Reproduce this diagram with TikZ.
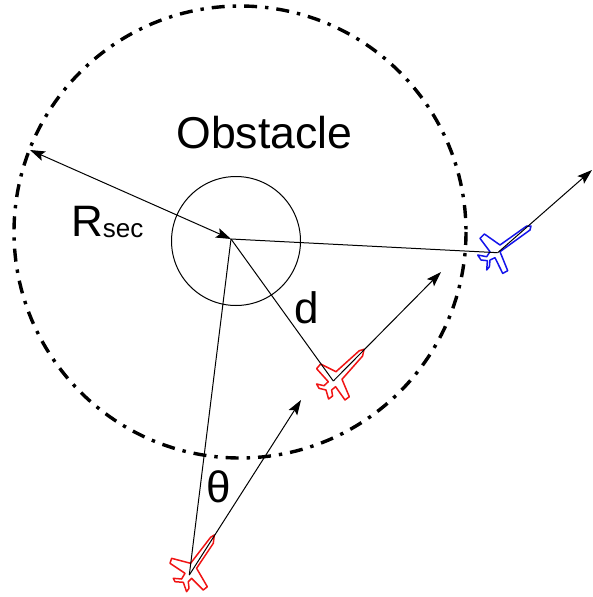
\documentclass[tikz,border=0pt]{standalone}
\usepackage{fontspec}
\setmainfont{Liberation Sans}
\usetikzlibrary{arrows.meta}
\tikzset{
  conn/.style={draw=black,line width=1pt},
  arrowconn/.style={conn,-{Stealth[length=15pt,width=10pt,inset=3pt]}},
  bothconn/.style={conn,{Stealth[length=15pt,width=10pt,inset=3pt]}-{Stealth[length=15pt,width=10pt,inset=3pt]}},
  label/.style={inner sep=0pt,text=black},
  planeline/.style={line width=1.5pt,line join=round},
  planeA/.pic={
    \draw[planeline,pic actions]
      (25,-40)--(21.3,-37.7)--(1.3,-11.7)--(-17.7,-16.7)--(-19.3,-11.7)--(-4.3,-1.7)--(-7.7,4)
      --(-16,3.3)--(-14.3,6.7)--(-6,7.3)--(-2.7,16.7)--(-0.3,13.3)--(-1,6.7)--(2.3,3.3)
      --(14,15)--(18,11.7)--(7.3,-6.7)--(24,-31.7)--cycle;
  },
  planeB/.pic={
    \draw[planeline,pic actions]
      (30.7,-31.7)--(26,-30.3)--(2.7,-9.3)--(-12.7,-17)--(-16.7,-12.3)--(-5,0.7)--(-9.3,4.7)
      --(-16.7,3)--(-14.3,7.3)--(-7.3,9)--(-4.7,18)--(-0.7,15)--(-1.7,9)--(2.3,5.7)
      --(11.7,19)--(16,15.7)--(8.7,-1.7)--(29.3,-25)--cycle;
  },
  planeC/.pic={
    \draw[planeline,pic actions]
      (33.3,-26.7)--(29,-26.7)--(2.3,-7.7)--(-13.3,-18.7)--(-17.7,-14.3)--(-7.7,-1)--(-11,4)
      --(-20,2.3)--(-16.7,7.3)--(-10.3,8)--(-11,17.3)--(-8.3,14)--(-7.7,7.3)--(-2.7,5)
      --(5,20.7)--(10,18)--(2.3,-1)--(32.3,-22.7)--cycle;
  }
}
\definecolor{planeblue}{RGB}{20,20,235}
\definecolor{planered}{RGB}{240,20,20}
\begin{document}
\begin{tikzpicture}[x=1pt,y=-1pt]
\useasboundingbox (0,0) rectangle (593,597);
\coordinate (hub) at (231,239);
\coordinate (rim) at (30,150);
\coordinate (redA) at (189.3,575);
\coordinate (redAtip) at (301,400);
\coordinate (redB) at (333.3,381);
\coordinate (redBtip) at (441,272);
\coordinate (blue) at (497.7,252.7);
\coordinate (bluetip) at (592,170);
\draw[line width=3.4pt,dash pattern=on 13pt off 8pt on 3.4pt off 8pt] (240,232) circle[radius=226];
\draw[conn] (236,241) circle[radius=64.5];
\pic[draw=planered] at (redA) {planeA};
\pic[draw=planered] at (redB) {planeB};
\pic[draw=planeblue] at (blue) {planeC};
\draw[bothconn] (rim) -- (hub);
\draw[conn] (hub) -- (redA);
\draw[conn] (hub) -- (redB);
\draw[conn] (hub) -- (blue);
\draw[arrowconn] (redA) -- (redAtip);
\draw[arrowconn] (redB) -- (redBtip);
\draw[arrowconn] (blue) -- (bluetip);
\node[label,font=\fontsize{44.6}{44}\selectfont] (obst) at (264.5,133) {Obstacle};
\node[label,font=\fontsize{44}{44}\selectfont,anchor=base west] (rsec) at (71,236) {R\raisebox{-1pt}{\fontsize{26}{26}\selectfont sec}};
\node[label,font=\fontsize{44}{44}\selectfont,anchor=base] (dlab) at (307,323) {d};
\node[label,font=\fontsize{44}{44}\selectfont,anchor=base] (theta) at (218.5,502) {θ};
\end{tikzpicture}
\end{document}
